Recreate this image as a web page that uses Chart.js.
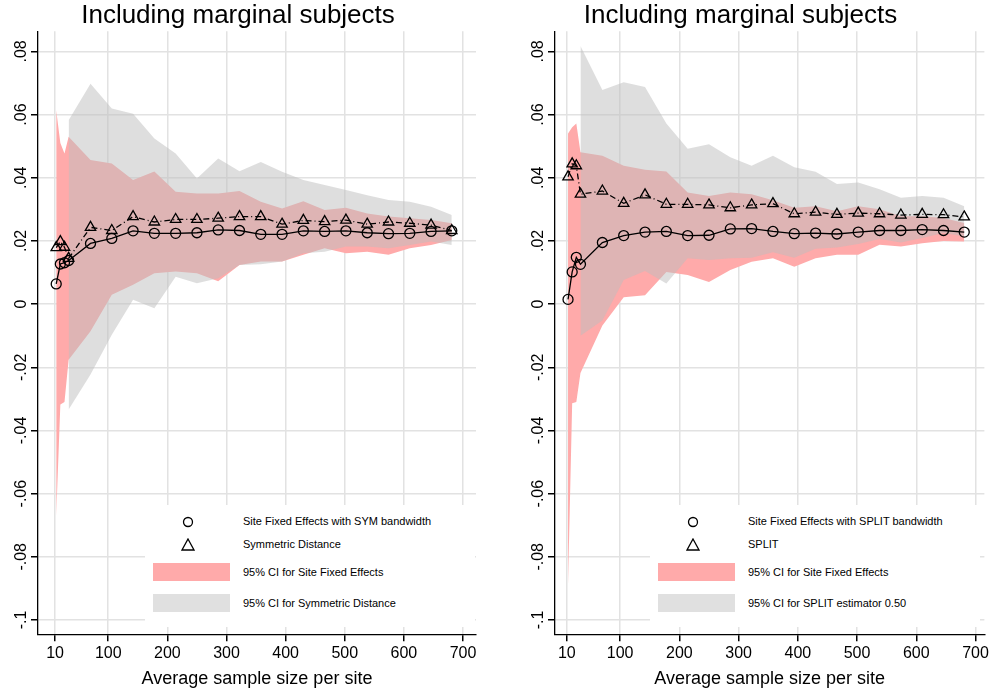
<!DOCTYPE html>
<html>
<head>
<meta charset="utf-8">
<script src="https://cdn.jsdelivr.net/npm/chart.js@4/dist/chart.umd.min.js"></script>
<style>
body { margin: 0; background: #fff; font-family: "Liberation Sans", Arial, sans-serif; }
.wrap { position: relative; width: 992px; height: 694px; }
canvas { position: absolute; top: 0; }
.leg { position: absolute; background: #fff; font-size: 11px; color: #000; }
.sym { position: absolute; }
.lab { position: absolute; white-space: nowrap; }
.sw { position: absolute; width: 77px; height: 18px; }
</style>
</head>
<body>
<div class="wrap">
<canvas id="left" width="496" height="694" style="left:0"></canvas>
<canvas id="right" width="496" height="694" style="left:496px"></canvas>
</div>
<script>
var xTicks = [10, 100, 200, 300, 400, 500, 600, 700];
var yTicks = [-0.1, -0.08, -0.06, -0.04, -0.02, 0, 0.02, 0.04, 0.06, 0.08];
var sites = [12, 19, 26, 33, 70, 106, 142, 178, 214, 250, 286, 322, 358, 394, 430, 466, 502, 538, 574, 610, 646, 681];

// left panel
var fePointsL = [0.0064, 0.0127, 0.0131, 0.0138, 0.0192, 0.0208, 0.0232, 0.0224, 0.0224, 0.0226, 0.0235, 0.0233, 0.0221, 0.0221, 0.0232, 0.0230, 0.0232, 0.0226, 0.0223, 0.0224, 0.0230, 0.0232];
var symPoints = [0.0179, 0.0198, 0.0180, 0.0145, 0.0243, 0.0233, 0.0277, 0.0260, 0.0268, 0.0268, 0.0272, 0.0277, 0.0277, 0.0253, 0.0265, 0.0261, 0.0266, 0.0253, 0.0260, 0.0256, 0.0250, 0.0233];
var feUpL = [0.0614, 0.0510, 0.0477, 0.0530, 0.0456, 0.0445, 0.0393, 0.0420, 0.0356, 0.0350, 0.0350, 0.0358, 0.0324, 0.0303, 0.0326, 0.0298, 0.0305, 0.0287, 0.0277, 0.0272, 0.0266, 0.0256];
var feLoL = [-0.0670, -0.0318, -0.0310, -0.0176, -0.0086, 0.0030, 0.0061, 0.0098, 0.0103, 0.0098, 0.0072, 0.0124, 0.0135, 0.0135, 0.0156, 0.0177, 0.0161, 0.0166, 0.0156, 0.0177, 0.0187, 0.0203];
var symUp = [null, null, null, 0.0582, 0.0698, 0.0619, 0.0603, 0.0524, 0.0477, 0.0398, 0.0461, 0.0421, 0.0450, 0.0419, 0.0393, 0.0377, 0.0361, 0.0345, 0.0330, 0.0324, 0.0308, 0.0282];
var symLo = [null, null, null, -0.0334, -0.0223, -0.0097, 0.0014, -0.0013, 0.0087, 0.0066, 0.0082, 0.0124, 0.0126, 0.0135, 0.0161, 0.0166, 0.0182, 0.0182, 0.0177, 0.0187, 0.0198, 0.0187];

// right panel
var fePointsR = [0.0015, 0.0102, 0.0148, 0.0126, 0.0195, 0.0217, 0.0228, 0.0230, 0.0217, 0.0218, 0.0238, 0.0239, 0.0230, 0.0223, 0.0225, 0.0222, 0.0228, 0.0233, 0.0233, 0.0236, 0.0233, 0.0228];
var splitPoints = [0.0403, 0.0444, 0.0438, 0.0348, 0.0358, 0.0319, 0.0346, 0.0316, 0.0316, 0.0314, 0.0305, 0.0314, 0.0318, 0.0286, 0.0291, 0.0284, 0.0288, 0.0286, 0.0282, 0.0284, 0.0283, 0.0276];
var feUpR = [0.0540, 0.0560, 0.0572, 0.0481, 0.0470, 0.0438, 0.0425, 0.0420, 0.0353, 0.0342, 0.0353, 0.0348, 0.0329, 0.0305, 0.0310, 0.0294, 0.0310, 0.0300, 0.0278, 0.0278, 0.0273, 0.0257];
var feLoR = [-0.0890, -0.0314, -0.0310, -0.0218, -0.0068, 0.0022, 0.0028, 0.0102, 0.0092, 0.0070, 0.0108, 0.0134, 0.0145, 0.0118, 0.0145, 0.0156, 0.0156, 0.0188, 0.0182, 0.0193, 0.0200, 0.0198];
var splitUp = [null, null, null, 0.0817, 0.0678, 0.0702, 0.0687, 0.0572, 0.0492, 0.0506, 0.0465, 0.0438, 0.0470, 0.0433, 0.0419, 0.0380, 0.0385, 0.0364, 0.0337, 0.0342, 0.0337, 0.0310];
var splitLo = [null, null, null, -0.0100, -0.0052, 0.0076, 0.0105, 0.0065, 0.0145, 0.0140, 0.0145, 0.0147, 0.0164, 0.0147, 0.0175, 0.0179, 0.0190, 0.0206, 0.0195, 0.0209, 0.0225, 0.0214];

var RED = 'rgb(255,170,170)';
var GRAY = 'rgba(190,190,190,0.5)';

function pts(ys) {
	return sites.map(function(x, i) { return { x: x, y: ys[i] }; });
}

function fmtY(v) {
	if (Math.abs(v) < 1e-9) return '0';
	if (Math.abs(Math.abs(v) - 0.1) < 1e-9) return v < 0 ? '-.1' : '.1';
	return v.toFixed(2).replace('0.', '.');
}

// y tick labels written bottom-to-top, like the Stata original
var yLabels = {
	id: 'yLabels',
	afterDraw: function(chart) {
		var ctx = chart.ctx, s = chart.scales.y;
		ctx.save();
		ctx.fillStyle = '#000';
		ctx.font = '16px "Liberation Sans"';
		ctx.textAlign = 'center';
		ctx.textBaseline = 'bottom';
		yTicks.forEach(function(v) {
			var y = s.getPixelForValue(v);
			ctx.save();
			ctx.translate(s.right - 8, y);
			ctx.rotate(-Math.PI / 2);
			ctx.fillText(fmtY(v), 0, 0);
			ctx.restore();
		});
		ctx.restore();
	}
};

function makeChart(id, points, tri, fUp, fLo, gUp, gLo, xmin, xmax, padL, padR) {
	var ctx = document.getElementById(id).getContext('2d');
	return new Chart(ctx, {
		type: 'line',
		data: {
			datasets: [
				{ data: pts(points), borderColor: '#000', borderWidth: 1.3, pointStyle: 'circle', pointRadius: 5, pointBackgroundColor: 'rgba(0,0,0,0)', pointBorderColor: '#000', pointBorderWidth: 1.3, fill: false },
				{ data: pts(tri), borderColor: '#000', borderWidth: 1.3, borderDash: [6, 3, 1, 3], pointStyle: 'triangle', pointRadius: 6, pointBackgroundColor: 'rgba(0,0,0,0)', pointBorderColor: '#000', pointBorderWidth: 1.3, fill: false },
				{ data: pts(gUp), borderWidth: 0, pointRadius: 0, backgroundColor: GRAY, fill: '+1' },
				{ data: pts(gLo), borderWidth: 0, pointRadius: 0, fill: false },
				{ data: pts(fUp), borderWidth: 0, pointRadius: 0, backgroundColor: RED, fill: '+1' },
				{ data: pts(fLo), borderWidth: 0, pointRadius: 0, fill: false }
			]
		},
		options: {
			responsive: false,
			animation: false,
			layout: { padding: { left: 0, right: padR, top: 0, bottom: 0 } },
			plugins: {
				legend: { display: false },
				tooltip: { enabled: false },
				title: { display: true, text: 'Including marginal subjects', color: '#000', font: { family: 'Liberation Sans', size: 26, weight: 'normal' }, padding: { top: 0, bottom: 0 } }
			},
			scales: {
				x: {
					type: 'linear', min: xmin, max: xmax,
					afterBuildTicks: function(s) { s.ticks = xTicks.map(function(v) { return { value: v }; }); },
					ticks: { color: '#000', font: { family: 'Liberation Sans', size: 16 }, maxRotation: 0, autoSkip: false },
					grid: { color: '#e2e2e2', lineWidth: 1.5, tickColor: '#000', tickLength: 7 },
					border: { color: '#000', width: 1.3 },
					title: { display: true, text: 'Average sample size per site', color: '#000', font: { family: 'Liberation Sans', size: 18 }, padding: { top: 2, bottom: 4 } }
				},
				y: {
					type: 'linear', min: -0.1045, max: 0.0864,
					afterBuildTicks: function(s) { s.ticks = yTicks.map(function(v) { return { value: v }; }); },
					afterFit: function(s) { s.width = padL; },
					ticks: { display: false },
					grid: { color: '#e2e2e2', lineWidth: 1.5, tickColor: '#000', tickLength: 7 },
					border: { color: '#000', width: 1.3 }
				}
			}
		},
		plugins: [yLabels]
	});
}

makeChart('left', fePointsL, symPoints, feUpL, feLoL, symUp, symLo, -18.8, 722, 38, 20);
makeChart('right', fePointsR, splitPoints, feUpR, feLoR, splitUp, splitLo, -10, 715, 59, 7);

function legend(left, top, labels) {
	var box = document.createElement('div');
	box.className = 'leg';
	box.style.left = left + 'px'; box.style.top = top + 'px';
	box.style.width = '330px'; box.style.height = '122px';
	box.innerHTML =
		'<svg class="sym" style="left:37px;top:11px" width="12" height="12"><circle cx="6" cy="6" r="4.5" fill="none" stroke="#000" stroke-width="1.3"/></svg>' +
		'<div class="lab" style="left:98px;top:10px">' + labels[0] + '</div>' +
		'<svg class="sym" style="left:36px;top:33px" width="14" height="13"><polygon points="7,1 13,12 1,12" fill="none" stroke="#000" stroke-width="1.3"/></svg>' +
		'<div class="lab" style="left:98px;top:33px">' + labels[1] + '</div>' +
		'<div class="sw" style="left:8px;top:58px;background:' + RED + '"></div>' +
		'<div class="lab" style="left:98px;top:61px">' + labels[2] + '</div>' +
		'<div class="sw" style="left:8px;top:89px;background:#e0e0e0"></div>' +
		'<div class="lab" style="left:98px;top:92px">' + labels[3] + '</div>';
	document.querySelector('.wrap').appendChild(box);
}
legend(145, 505, ['Site Fixed Effects with SYM bandwidth', 'Symmetric Distance', '95% CI for Site Fixed Effects', '95% CI for Symmetric Distance']);
legend(650, 505, ['Site Fixed Effects with SPLIT bandwidth', 'SPLIT', '95% CI for Site Fixed Effects', '95% CI for SPLIT estimator 0.50']);
</script>
</body>
</html>
